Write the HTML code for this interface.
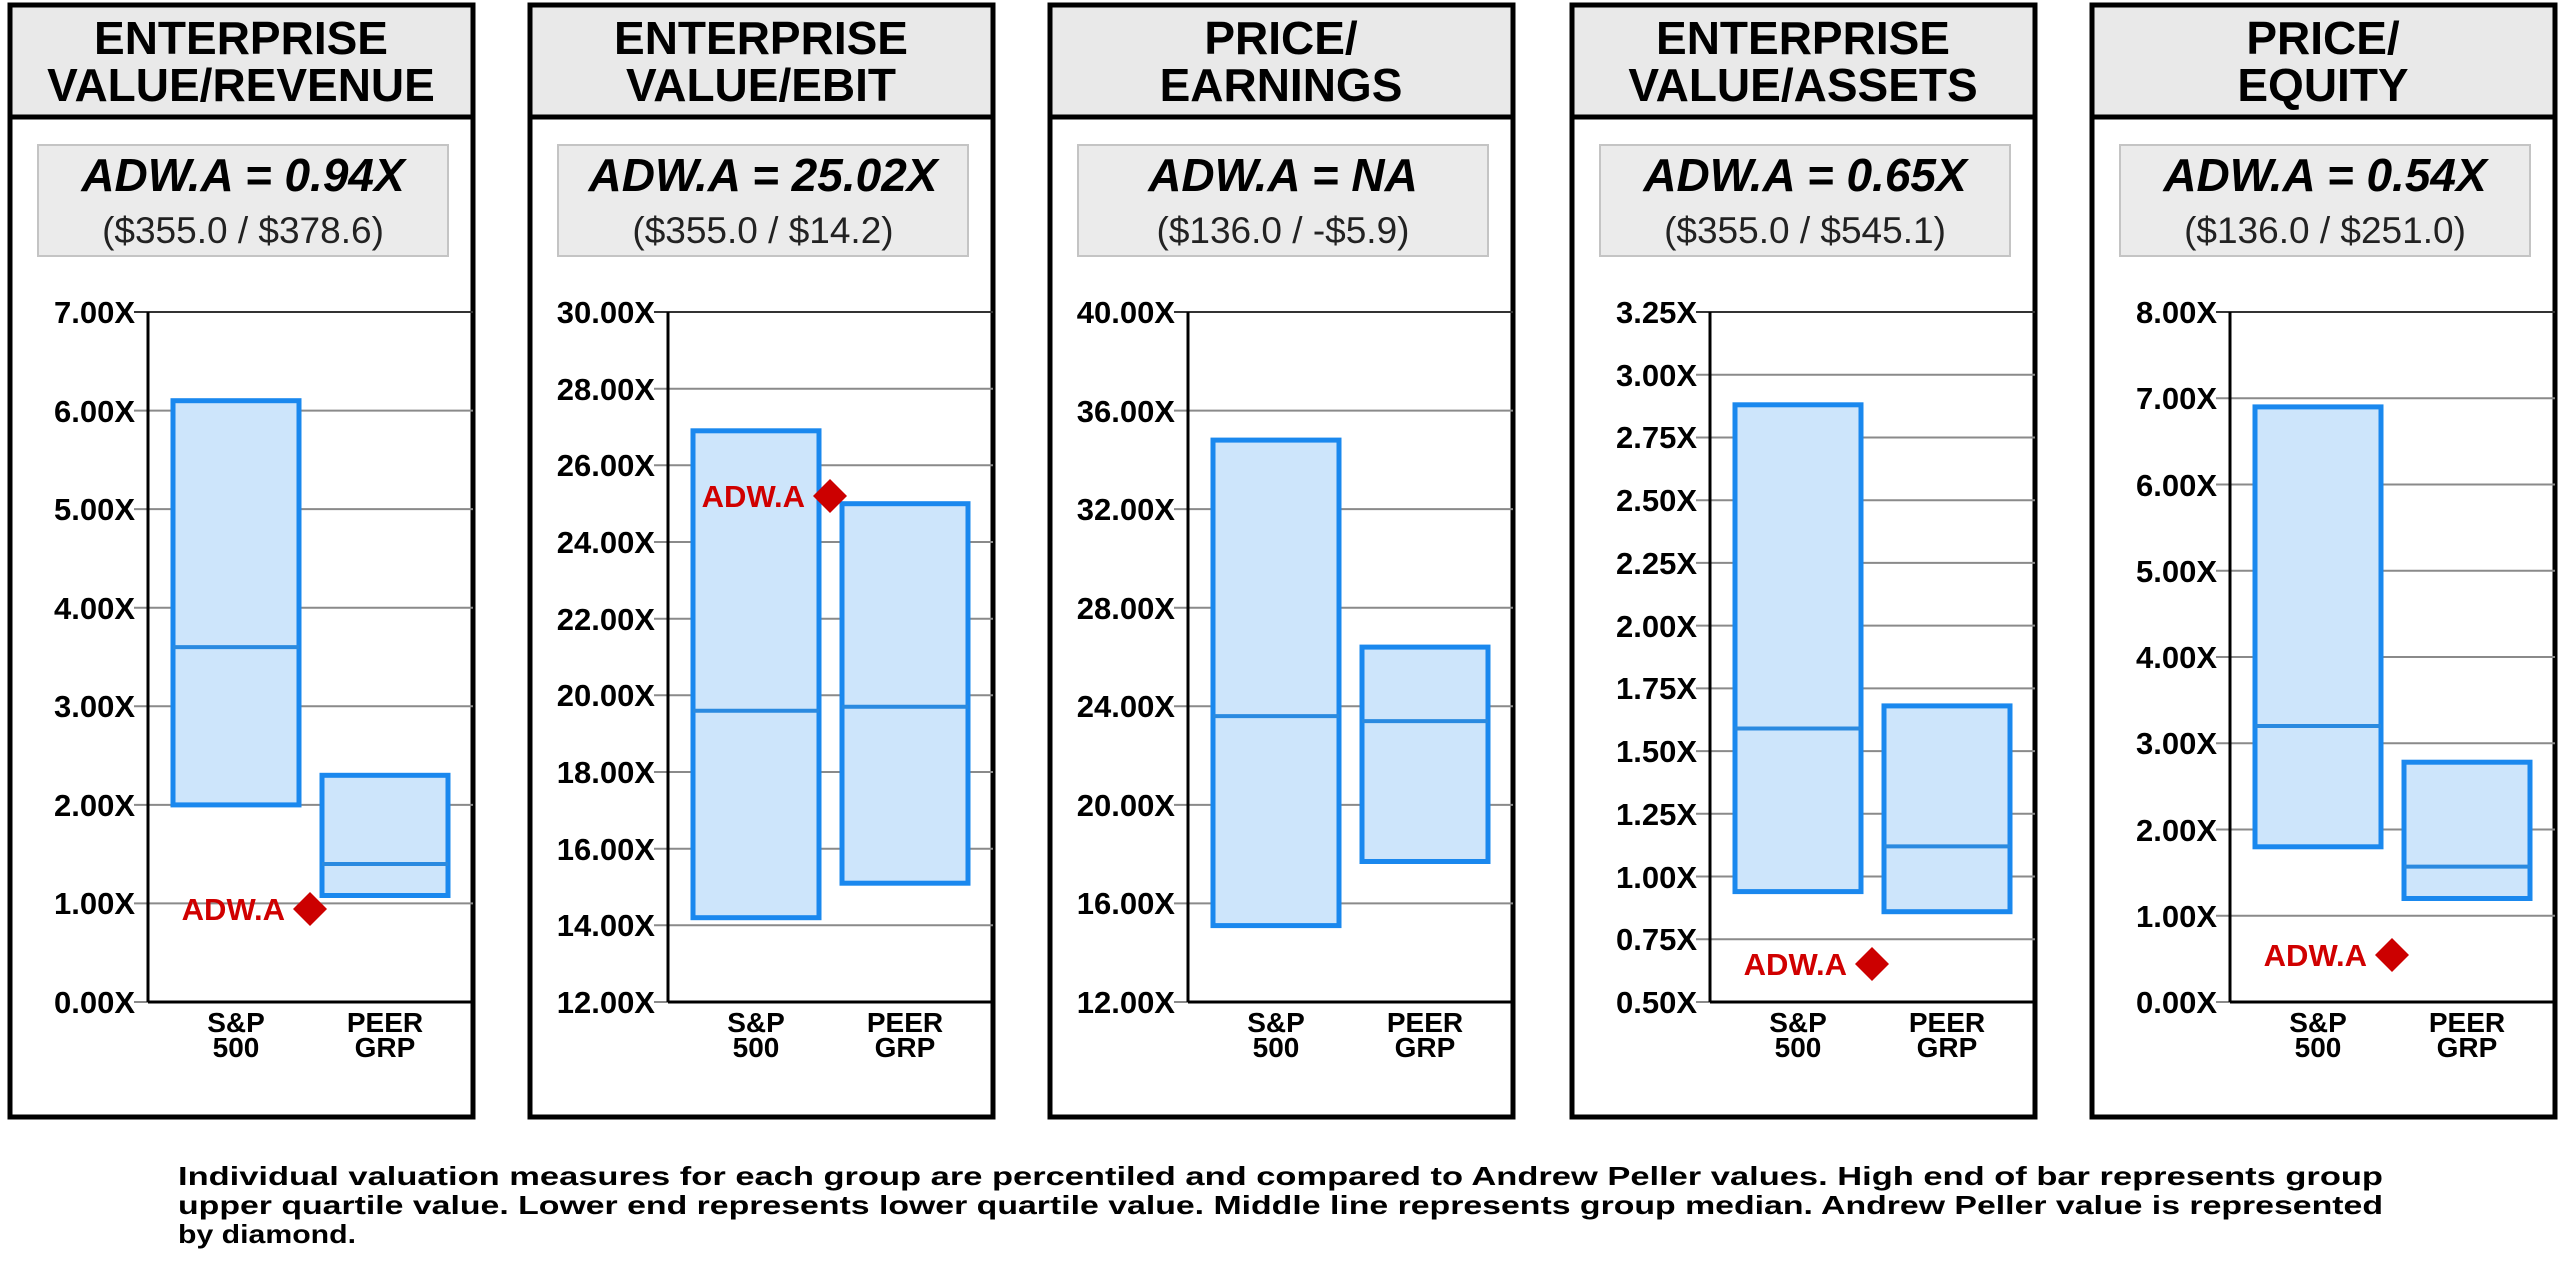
<!DOCTYPE html>
<html><head><meta charset="utf-8"><style>
html,body{margin:0;padding:0;background:#fff;width:2560px;height:1276px;overflow:hidden}
svg{display:block}
.t{font-family:"Liberation Sans",sans-serif;font-weight:bold;font-size:46px;fill:#000;text-anchor:middle}
.v{font-family:"Liberation Sans",sans-serif;font-weight:bold;font-style:italic;font-size:46px;fill:#000;text-anchor:middle}
.s{font-family:"Liberation Sans",sans-serif;font-size:37px;fill:#222;text-anchor:middle}
.k{font-family:"Liberation Sans",sans-serif;font-weight:bold;font-size:31px;fill:#000;text-anchor:end}
.c{font-family:"Liberation Sans",sans-serif;font-weight:bold;font-size:28px;fill:#000;text-anchor:middle}
.r{font-family:"Liberation Sans",sans-serif;font-weight:bold;font-size:31px;fill:#d00000;text-anchor:end}
.f{font-family:"Liberation Sans",sans-serif;font-weight:bold;font-size:26px;fill:#000}
.g{stroke:#8a8a8a;stroke-width:2}
.bar{fill:#cde5fb;stroke:#1a88ee;stroke-width:5}
.med{stroke:#2a8ae0;stroke-width:4}
.frame{fill:#fff;stroke:#000;stroke-width:5}
.hd{fill:#e9e9e9;stroke:#000;stroke-width:5}
.vb{fill:#ebebeb;stroke:#c4c4c4;stroke-width:2}
.ax{stroke:#000;stroke-width:3}
</style></head><body>
<svg width="2560" height="1276" viewBox="0 0 2560 1276" xmlns="http://www.w3.org/2000/svg">

<!-- Panel 1 -->
<g transform="translate(8,0)">
<rect class="frame" x="2" y="5" width="463" height="1112"/>
<rect class="hd" x="2" y="5" width="463" height="112"/>
<text class="t" x="233" y="54">ENTERPRISE</text>
<text class="t" x="233" y="101">VALUE/REVENUE</text>
<rect class="vb" x="30" y="145" width="410" height="111"/>
<text class="v" x="235" y="191">ADW.A = 0.94X</text>
<text class="s" x="235" y="243">($355.0 / $378.6)</text>
<g class="g">
<line x1="126" y1="1002" x2="465" y2="1002"/><line x1="126" y1="903.4" x2="465" y2="903.4"/><line x1="126" y1="804.9" x2="465" y2="804.9"/><line x1="126" y1="706.3" x2="465" y2="706.3"/><line x1="126" y1="607.7" x2="465" y2="607.7"/><line x1="126" y1="509.1" x2="465" y2="509.1"/><line x1="126" y1="410.6" x2="465" y2="410.6"/>
</g>
<line x1="126" y1="312" x2="465" y2="312" stroke="#333" stroke-width="2"/>
<line class="ax" x1="140" y1="312" x2="140" y2="1002"/><line class="ax" x1="140" y1="1002" x2="465" y2="1002"/>
<text class="k" x="127" y="1013">0.00X</text><text class="k" x="127" y="914">1.00X</text><text class="k" x="127" y="816">2.00X</text><text class="k" x="127" y="717">3.00X</text><text class="k" x="127" y="619">4.00X</text><text class="k" x="127" y="520">5.00X</text><text class="k" x="127" y="422">6.00X</text><text class="k" x="127" y="323">7.00X</text>
<rect class="bar" x="165" y="400.7" width="126" height="404.2"/><line class="med" x1="165" y1="647.1" x2="291" y2="647.1"/>
<rect class="bar" x="314" y="775.3" width="126" height="120.2"/><line class="med" x1="314" y1="864" x2="440" y2="864"/>
<polygon points="302,892 319,909 302,926 285,909" fill="#cc0000"/>
<text class="r" x="277" y="920">ADW.A</text>
<text class="c" x="228" y="1032">S&amp;P</text><text class="c" x="228" y="1057">500</text>
<text class="c" x="377" y="1032">PEER</text><text class="c" x="377" y="1057">GRP</text>
</g>

<!-- Panel 2 -->
<g transform="translate(528,0)">
<rect class="frame" x="2" y="5" width="463" height="1112"/>
<rect class="hd" x="2" y="5" width="463" height="112"/>
<text class="t" x="233" y="54">ENTERPRISE</text>
<text class="t" x="233" y="101">VALUE/EBIT</text>
<rect class="vb" x="30" y="145" width="410" height="111"/>
<text class="v" x="235" y="191">ADW.A = 25.02X</text>
<text class="s" x="235" y="243">($355.0 / $14.2)</text>
<g class="g">
<line x1="126" y1="1002" x2="465" y2="1002"/><line x1="126" y1="925.3" x2="465" y2="925.3"/><line x1="126" y1="848.7" x2="465" y2="848.7"/><line x1="126" y1="772" x2="465" y2="772"/><line x1="126" y1="695.3" x2="465" y2="695.3"/><line x1="126" y1="618.7" x2="465" y2="618.7"/><line x1="126" y1="542" x2="465" y2="542"/><line x1="126" y1="465.3" x2="465" y2="465.3"/><line x1="126" y1="388.7" x2="465" y2="388.7"/>
</g>
<line x1="126" y1="312" x2="465" y2="312" stroke="#333" stroke-width="2"/>
<line class="ax" x1="140" y1="312" x2="140" y2="1002"/><line class="ax" x1="140" y1="1002" x2="465" y2="1002"/>
<text class="k" x="127" y="1013">12.00X</text><text class="k" x="127" y="936">14.00X</text><text class="k" x="127" y="860">16.00X</text><text class="k" x="127" y="783">18.00X</text><text class="k" x="127" y="706">20.00X</text><text class="k" x="127" y="630">22.00X</text><text class="k" x="127" y="553">24.00X</text><text class="k" x="127" y="476">26.00X</text><text class="k" x="127" y="400">28.00X</text><text class="k" x="127" y="323">30.00X</text>
<rect class="bar" x="165" y="430.8" width="126" height="486.9"/><line class="med" x1="165" y1="710.7" x2="291" y2="710.7"/>
<rect class="bar" x="314" y="503.7" width="126" height="379.5"/><line class="med" x1="314" y1="706.8" x2="440" y2="706.8"/>
<polygon points="302,479 319,496 302,513 285,496" fill="#cc0000"/>
<text class="r" x="277" y="507">ADW.A</text>
<text class="c" x="228" y="1032">S&amp;P</text><text class="c" x="228" y="1057">500</text>
<text class="c" x="377" y="1032">PEER</text><text class="c" x="377" y="1057">GRP</text>
</g>

<!-- Panel 3 -->
<g transform="translate(1048,0)">
<rect class="frame" x="2" y="5" width="463" height="1112"/>
<rect class="hd" x="2" y="5" width="463" height="112"/>
<text class="t" x="233" y="54">PRICE/</text>
<text class="t" x="233" y="101">EARNINGS</text>
<rect class="vb" x="30" y="145" width="410" height="111"/>
<text class="v" x="235" y="191">ADW.A = NA</text>
<text class="s" x="235" y="243">($136.0 / -$5.9)</text>
<g class="g">
<line x1="126" y1="1002" x2="465" y2="1002"/><line x1="126" y1="903.4" x2="465" y2="903.4"/><line x1="126" y1="804.9" x2="465" y2="804.9"/><line x1="126" y1="706.3" x2="465" y2="706.3"/><line x1="126" y1="607.7" x2="465" y2="607.7"/><line x1="126" y1="509.1" x2="465" y2="509.1"/><line x1="126" y1="410.6" x2="465" y2="410.6"/>
</g>
<line x1="126" y1="312" x2="465" y2="312" stroke="#333" stroke-width="2"/>
<line class="ax" x1="140" y1="312" x2="140" y2="1002"/><line class="ax" x1="140" y1="1002" x2="465" y2="1002"/>
<text class="k" x="127" y="1013">12.00X</text><text class="k" x="127" y="914">16.00X</text><text class="k" x="127" y="816">20.00X</text><text class="k" x="127" y="717">24.00X</text><text class="k" x="127" y="619">28.00X</text><text class="k" x="127" y="520">32.00X</text><text class="k" x="127" y="422">36.00X</text><text class="k" x="127" y="323">40.00X</text>
<rect class="bar" x="165" y="440.1" width="126" height="485.5"/><line class="med" x1="165" y1="716.1" x2="291" y2="716.1"/>
<rect class="bar" x="314" y="647.1" width="126" height="214.4"/><line class="med" x1="314" y1="721.1" x2="440" y2="721.1"/>
<text class="c" x="228" y="1032">S&amp;P</text><text class="c" x="228" y="1057">500</text>
<text class="c" x="377" y="1032">PEER</text><text class="c" x="377" y="1057">GRP</text>
</g>

<!-- Panel 4 -->
<g transform="translate(1570,0)">
<rect class="frame" x="2" y="5" width="463" height="1112"/>
<rect class="hd" x="2" y="5" width="463" height="112"/>
<text class="t" x="233" y="54">ENTERPRISE</text>
<text class="t" x="233" y="101">VALUE/ASSETS</text>
<rect class="vb" x="30" y="145" width="410" height="111"/>
<text class="v" x="235" y="191">ADW.A = 0.65X</text>
<text class="s" x="235" y="243">($355.0 / $545.1)</text>
<g class="g">
<line x1="126" y1="1002" x2="465" y2="1002"/><line x1="126" y1="939.3" x2="465" y2="939.3"/><line x1="126" y1="876.5" x2="465" y2="876.5"/><line x1="126" y1="813.8" x2="465" y2="813.8"/><line x1="126" y1="751.1" x2="465" y2="751.1"/><line x1="126" y1="688.4" x2="465" y2="688.4"/><line x1="126" y1="625.6" x2="465" y2="625.6"/><line x1="126" y1="562.9" x2="465" y2="562.9"/><line x1="126" y1="500.2" x2="465" y2="500.2"/><line x1="126" y1="437.5" x2="465" y2="437.5"/><line x1="126" y1="374.7" x2="465" y2="374.7"/>
</g>
<line x1="126" y1="312" x2="465" y2="312" stroke="#333" stroke-width="2"/>
<line class="ax" x1="140" y1="312" x2="140" y2="1002"/><line class="ax" x1="140" y1="1002" x2="465" y2="1002"/>
<text class="k" x="127" y="1013">0.50X</text><text class="k" x="127" y="950">0.75X</text><text class="k" x="127" y="888">1.00X</text><text class="k" x="127" y="825">1.25X</text><text class="k" x="127" y="762">1.50X</text><text class="k" x="127" y="699">1.75X</text><text class="k" x="127" y="637">2.00X</text><text class="k" x="127" y="574">2.25X</text><text class="k" x="127" y="511">2.50X</text><text class="k" x="127" y="448">2.75X</text><text class="k" x="127" y="386">3.00X</text><text class="k" x="127" y="323">3.25X</text>
<rect class="bar" x="165" y="404.8" width="126" height="486.8"/><line class="med" x1="165" y1="728.5" x2="291" y2="728.5"/>
<rect class="bar" x="314" y="705.9" width="126" height="205.8"/><line class="med" x1="314" y1="846.4" x2="440" y2="846.4"/>
<polygon points="302,947 319,964 302,981 285,964" fill="#cc0000"/>
<text class="r" x="277" y="975">ADW.A</text>
<text class="c" x="228" y="1032">S&amp;P</text><text class="c" x="228" y="1057">500</text>
<text class="c" x="377" y="1032">PEER</text><text class="c" x="377" y="1057">GRP</text>
</g>

<!-- Panel 5 -->
<g transform="translate(2090,0)">
<rect class="frame" x="2" y="5" width="463" height="1112"/>
<rect class="hd" x="2" y="5" width="463" height="112"/>
<text class="t" x="233" y="54">PRICE/</text>
<text class="t" x="233" y="101">EQUITY</text>
<rect class="vb" x="30" y="145" width="410" height="111"/>
<text class="v" x="235" y="191">ADW.A = 0.54X</text>
<text class="s" x="235" y="243">($136.0 / $251.0)</text>
<g class="g">
<line x1="126" y1="1002" x2="465" y2="1002"/><line x1="126" y1="915.75" x2="465" y2="915.75"/><line x1="126" y1="829.5" x2="465" y2="829.5"/><line x1="126" y1="743.25" x2="465" y2="743.25"/><line x1="126" y1="657" x2="465" y2="657"/><line x1="126" y1="570.75" x2="465" y2="570.75"/><line x1="126" y1="484.5" x2="465" y2="484.5"/><line x1="126" y1="398.25" x2="465" y2="398.25"/>
</g>
<line x1="126" y1="312" x2="465" y2="312" stroke="#333" stroke-width="2"/>
<line class="ax" x1="140" y1="312" x2="140" y2="1002"/><line class="ax" x1="140" y1="1002" x2="465" y2="1002"/>
<text class="k" x="127" y="1013">0.00X</text><text class="k" x="127" y="927">1.00X</text><text class="k" x="127" y="841">2.00X</text><text class="k" x="127" y="754">3.00X</text><text class="k" x="127" y="668">4.00X</text><text class="k" x="127" y="582">5.00X</text><text class="k" x="127" y="496">6.00X</text><text class="k" x="127" y="409">7.00X</text><text class="k" x="127" y="323">8.00X</text>
<rect class="bar" x="165" y="406.9" width="126" height="439.9"/><line class="med" x1="165" y1="726" x2="291" y2="726"/>
<rect class="bar" x="314" y="762.2" width="126" height="136.3"/><line class="med" x1="314" y1="866.6" x2="440" y2="866.6"/>
<polygon points="302,938 319,955 302,972 285,955" fill="#cc0000"/>
<text class="r" x="277" y="966">ADW.A</text>
<text class="c" x="228" y="1032">S&amp;P</text><text class="c" x="228" y="1057">500</text>
<text class="c" x="377" y="1032">PEER</text><text class="c" x="377" y="1057">GRP</text>
</g>

<!-- Footnote -->
<text class="f" x="178" y="1185" textLength="2205" lengthAdjust="spacingAndGlyphs">Individual valuation measures for each group are percentiled and compared to Andrew Peller values.  High end of bar represents group</text>
<text class="f" x="178" y="1214" textLength="2205" lengthAdjust="spacingAndGlyphs">upper quartile value.  Lower end represents lower quartile value.  Middle line represents group median.  Andrew Peller value is represented</text>
<text class="f" x="178" y="1243" textLength="178" lengthAdjust="spacingAndGlyphs">by diamond.</text>
</svg>
</body></html>
